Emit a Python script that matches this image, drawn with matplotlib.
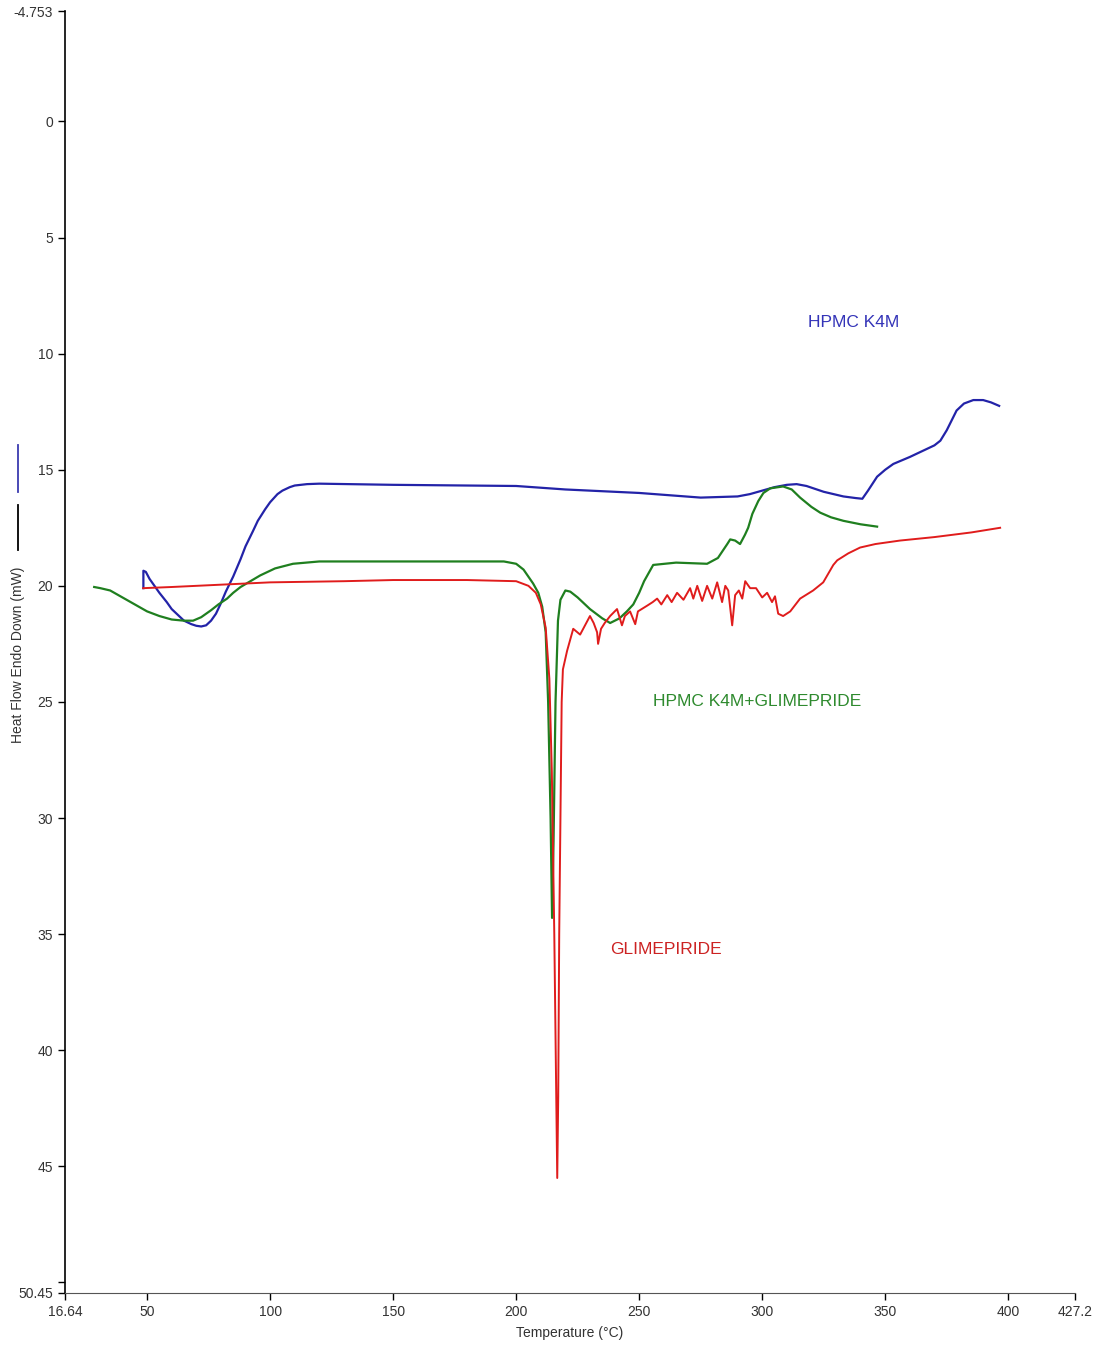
import matplotlib.pyplot as plt
from matplotlib.lines import Line2D

plt.rcParams['font.family'] = ['Liberation Sans', 'DejaVu Sans']

# HPMC K4M (blue)
hpmc_t = [48.5, 48.5, 49.5, 51, 53, 55, 58, 60, 63, 65, 68, 70, 72, 74, 76, 78, 80,
          82, 85, 88, 90, 93, 95, 98, 100, 103, 105, 108, 110, 115, 120, 150, 200,
          220, 250, 275, 290, 295, 300, 305, 310, 314, 318, 325, 333, 338, 340.7,
          343, 346.7, 350, 353.3, 360, 367, 370, 372.4, 375, 379, 382, 385.8, 389.8,
          393, 396.3]
hpmc_q = [20.1, 19.35, 19.4, 19.7, 20.0, 20.3, 20.7, 21.0, 21.3, 21.5, 21.65, 21.72,
          21.75, 21.7, 21.5, 21.2, 20.75, 20.25, 19.6, 18.85, 18.3, 17.65, 17.2, 16.7,
          16.4, 16.05, 15.9, 15.75, 15.68, 15.62, 15.6, 15.65, 15.7, 15.85, 16.0, 16.2,
          16.15, 16.05, 15.9, 15.75, 15.65, 15.62, 15.7, 15.95, 16.15, 16.22, 16.25,
          15.9, 15.3, 15.0, 14.75, 14.45, 14.1, 13.95, 13.75, 13.3, 12.45, 12.15,
          12.0, 12.0, 12.1, 12.25]

# HPMC K4M + GLIMEPRIDE (green)
mix_t = [28.5, 31, 35, 40, 45, 50, 55, 60, 65, 68.7, 72, 76, 79, 82.5, 85, 88, 92,
         96, 102, 109.3, 120, 150, 195, 200, 203, 206.9, 209, 210.6, 212, 213, 214,
         214.6, 215.2, 216, 217, 218, 220, 222, 225, 230, 235, 238.2, 242, 245, 247.6,
         250, 252, 255.7, 265, 277.6, 282, 285.8, 287, 289, 291, 293, 294.3, 296, 298.4,
         300.5, 303.3, 308.5, 312, 315.4, 320, 323.6, 328, 333, 340, 346.7]
mix_q = [20.05, 20.1, 20.2, 20.5, 20.8, 21.1, 21.3, 21.45, 21.5, 21.5, 21.35, 21.05,
         20.8, 20.55, 20.3, 20.05, 19.8, 19.55, 19.25, 19.05, 18.95, 18.95, 18.95,
         19.05, 19.3, 19.9, 20.3, 20.9, 22.0, 25.0, 30.0, 34.3, 31.0, 25.0, 21.5, 20.6,
         20.2, 20.25, 20.5, 21.0, 21.4, 21.6, 21.4, 21.1, 20.8, 20.3, 19.8, 19.1, 19.0,
         19.05, 18.8, 18.2, 18.0, 18.05, 18.2, 17.8, 17.5, 16.9, 16.35, 16.0, 15.8,
         15.72, 15.85, 16.2, 16.6, 16.85, 17.05, 17.2, 17.35, 17.45]

# GLIMEPIRIDE (red)
glim_t = [48.4, 60, 80, 100, 130, 150, 180, 200, 205, 208, 210, 212, 213.5, 214.5,
          215.5, 216.3, 216.7, 217.1, 217.5, 218, 218.5, 219, 220.7, 223.2, 226, 228,
          230, 231.5, 232.9, 233.3, 234.5, 236, 238.2, 241, 243, 244.2, 246.3, 248.4,
          249.5, 253.3, 255.5, 257.3, 259, 261.4, 263.2, 265.4, 268, 270.7, 272, 273.6,
          275.6, 277.6, 279.7, 281.7, 283.7, 285, 286.2, 287.8, 289, 290.5, 291.9, 293.1,
          295.1, 297.5, 300, 302, 304, 305.2, 306.5, 308.5, 311.4, 315.4, 320.7, 324.8,
          328.9, 330.5, 335, 339.8, 346, 356, 370, 385, 396.7]
glim_q = [20.1, 20.05, 19.95, 19.85, 19.8, 19.75, 19.75, 19.8, 20.0, 20.3, 20.8, 21.8,
          24.0, 28.0, 35.0, 42.0, 45.5, 42.0, 35.0, 30.0, 25.0, 23.6, 22.8, 21.85, 22.1,
          21.7, 21.3, 21.6, 22.0, 22.5, 21.85, 21.6, 21.3, 21.0, 21.7, 21.3, 21.1, 21.65,
          21.1, 20.85, 20.7, 20.55, 20.8, 20.4, 20.7, 20.3, 20.6, 20.1, 20.55, 20.0, 20.65,
          20.0, 20.55, 19.85, 20.7, 20.0, 20.2, 21.7, 20.4, 20.2, 20.55, 19.8, 20.1, 20.1,
          20.5, 20.3, 20.7, 20.45, 21.2, 21.3, 21.1, 20.55, 20.2, 19.85, 19.1, 18.9, 18.6,
          18.35, 18.2, 18.05, 17.9, 17.7, 17.5]

xticks = [16.64, 50, 100, 150, 200, 250, 300, 350, 400, 427.2]
xtick_labels = ['16.64', '50', '100', '150', '200', '250', '300', '350', '400', '427.2']
yticks = [-4.753, 0, 5, 10, 15, 20, 25, 30, 35, 40, 45, 50, 50.45]
ytick_labels = ['-4.753', '0', '5', '10', '15', '20', '25', '30', '35', '40', '45', '', '50.45']

fig = plt.figure(figsize=(10.96, 13.45), dpi=100)
ax = fig.add_axes([0.0593, 0.0387, 0.9217, 0.9531])

ax.plot(hpmc_t, hpmc_q, color='#2323a8', lw=1.6)
ax.plot(mix_t, mix_q, color='#1f7f1f', lw=1.6)
ax.plot(glim_t, glim_q, color='#e01c1c', lw=1.4)

ax.text(318.7, 8.66, 'HPMC K4M', color='#3434b8', fontsize=12.5, va='center')
ax.text(255.7, 25.0, 'HPMC K4M+GLIMEPRIDE', color='#2e8a2e', fontsize=12.5, va='center')
ax.text(238.2, 35.65, 'GLIMEPIRIDE', color='#cc2222', fontsize=12.5, va='center')

ax.set_xlim(16.64, 427.2)
ax.set_ylim(50.45, -4.753)
ax.set_xticks(xticks)
ax.set_xticklabels(xtick_labels)
ax.set_yticks(yticks)
ax.set_yticklabels(ytick_labels)
ax.tick_params(labelsize=10, colors='#333333', length=5, width=1)
ax.tick_params(axis='both', color='black')
for side in ['top', 'right']:
    ax.spines[side].set_visible(False)
ax.spines['bottom'].set_color('#555555')
ax.spines['left'].set_color('black')
ax.spines['left'].set_linewidth(1.2)

ax.set_xlabel('Temperature (°C)', fontsize=10, color='#333333', labelpad=5)
fig.text(0.0164, 0.513, 'Heat Flow Endo Down (mW)', rotation=90, fontsize=10,
         color='#333333', ha='center', va='center')
fig.add_artist(Line2D([0.0164, 0.0164], [1 - 445 / 1345, 1 - 492 / 1345],
                      transform=fig.transFigure, color='#3a3ab0', lw=1.3))
fig.add_artist(Line2D([0.0164, 0.0164], [1 - 505 / 1345, 1 - 550 / 1345],
                      transform=fig.transFigure, color='black', lw=1.3))

plt.savefig('out.png', dpi=100)
